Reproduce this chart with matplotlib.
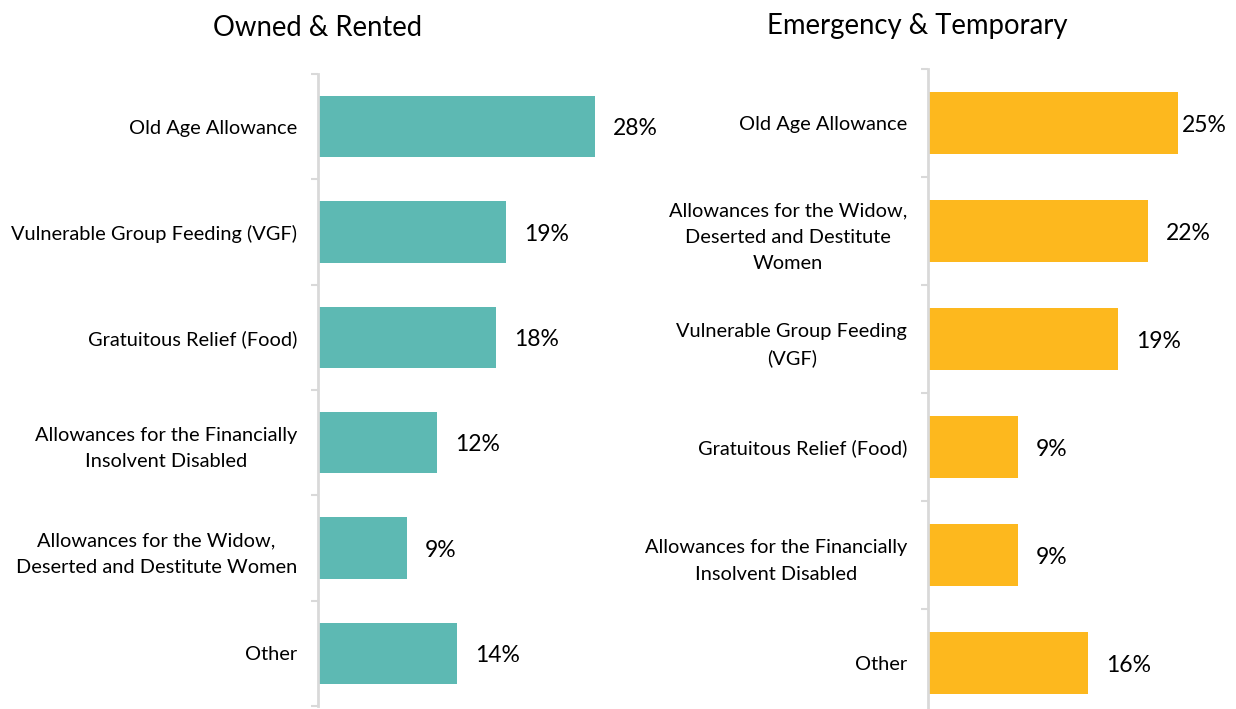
import matplotlib
matplotlib.use("Agg")
import matplotlib.pyplot as plt
import numpy as np

plt.rcParams['font.family'] = ['Lato', 'DejaVu Sans']

# left panel: owned & rented
own_labels = ["Old Age Allowance",
              "Vulnerable Group Feeding (VGF)",
              "Gratuitous Relief (Food)",
              "Allowances for the Financially\nInsolvent Disabled",
              "Allowances for the Widow,\nDeserted and Destitute Women",
              "Other"]
own_values = [28, 19, 18, 12, 9, 14]

# right panel: emergency & temporary
emg_labels = ["Old Age Allowance",
              "Allowances for the Widow,\nDeserted and Destitute\nWomen",
              "Vulnerable Group Feeding\n(VGF)",
              "Gratuitous Relief (Food)",
              "Allowances for the Financially\nInsolvent Disabled",
              "Other"]
emg_values = [25, 22, 19, 9, 9, 16]

W, H = 1236, 709
fig = plt.figure(figsize=(W/100, H/100), dpi=100)

def px_axes(x0, y_top, x1, y_bot):
    return fig.add_axes([x0/W, 1 - y_bot/H, (x1 - x0)/W, (y_bot - y_top)/H])

ax1 = px_axes(318, 74, 636, 706)
ax2 = px_axes(928, 69, 1236, 717)

def draw(ax, labels, values, color, xmax, pads):
    y = np.arange(len(values))
    ax.barh(y, values, height=0.58, color=color)
    ax.set_ylim(len(values) - 0.5, -0.5)
    ax.set_xlim(0, xmax)
    ax.set_yticks(y)
    ax.set_yticklabels(labels, fontsize=14.4, multialignment='center', linespacing=1.65)
    ax.tick_params(axis='y', which='major', length=0, pad=15)
    ax.set_yticks(np.arange(len(values) + 1) - 0.5, minor=True)
    ax.tick_params(axis='y', which='minor', length=5, width=1.5, color='#d9d9d9')
    ax.set_xticks([])
    for s in ['top', 'right', 'bottom']:
        ax.spines[s].set_visible(False)
    ax.spines['left'].set_color('#d9d9d9')
    ax.spines['left'].set_linewidth(2)
    for yi, v, p in zip(y, values, pads):
        ax.annotate(f"{v}%", (v, yi), xytext=(p, -1.5), textcoords='offset points',
                    va='center', ha='left', fontsize=16.5)

draw(ax1, own_labels, own_values, '#5DB9B3', 318/9.9, [13, 13, 13, 13, 13, 13])
draw(ax2, emg_labels, emg_values, '#FDB81E', 308/10.0, [3, 13, 13, 13, 13, 13])

fig.text(318/W, 1 - 28/H, "Owned & Rented", ha='center', va='center', fontsize=19.8)
fig.text(917/W, 1 - 26/H, "Emergency & Temporary", ha='center', va='center', fontsize=19.8)

fig.savefig("out.png", dpi=100)
